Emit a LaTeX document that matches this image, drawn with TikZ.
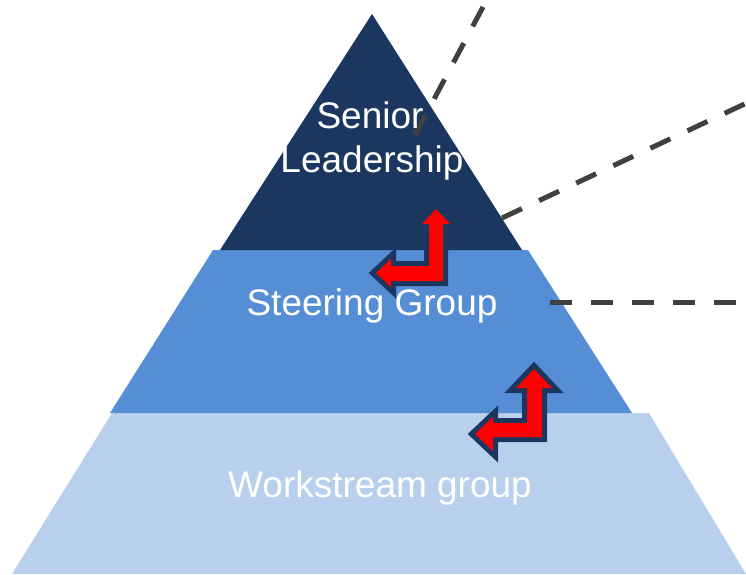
\documentclass[tikz,border=0pt]{standalone}
\usepackage{fontspec}
\setmainfont{Liberation Sans}
\definecolor{navy}{HTML}{1B375F}
\definecolor{midblue}{HTML}{558ED5}
\definecolor{lightblue}{HTML}{B9D0EC}
\definecolor{dashgrey}{HTML}{404040}
\tikzset{
  lvltext/.style={text=white, font=\fontsize{37}{44}\selectfont, anchor=base, inner sep=0pt},
  dashline/.style={draw=dashgrey, line width=5pt, dash pattern=on 22pt off 19pt},
  bentarrow/.style={fill=red, preaction={draw=navy, line width=10pt, line join=miter, miter limit=10, fill=navy}}
}
\begin{document}
\begin{tikzpicture}[x=1pt,y=-1pt]
\useasboundingbox (0,0) rectangle (746,574);
\clip (0,0) rectangle (746,574);
% pyramid levels
\fill[lightblue] (112,413) -- (649,413) -- (746,574) -- (12,574) -- cycle;
\fill[midblue] (213,250) -- (528,250) -- (632,413) -- (110,413) -- cycle;
\fill[navy] (372,14) -- (522,250) -- (220,250) -- cycle;
% dashed connectors
\coordinate (d1a) at (415,135);
\coordinate (d1b) at (492,-10);
\coordinate (d2a) at (502,218);
\coordinate (d2b) at (770,92);
\coordinate (d3a) at (550,302);
\coordinate (d3b) at (760,302);
\draw[dashline] (d1a) -- (d1b);
\draw[dashline] (d2a) -- (d2b);
\draw[dashline] (d3a) -- (d3b);
% labels
\node[lvltext] (senior) at (370,128) {Senior};
\node[lvltext] (leader) at (372,172) {Leadership};
\node[lvltext] (steer) at (372,315) {Steering Group};
\node[lvltext] (work) at (380,497) {Workstream group};
% bent arrows
\fill[bentarrow] (436,209) -- (450,224) -- (443,224) -- (443,281) -- (391,281) -- (391,287)
  -- (376,273) -- (391,259) -- (391,266) -- (429,266) -- (429,224) -- (422,224) -- cycle;
\fill[bentarrow] (534,369) -- (552,388) -- (542,388) -- (542,437) -- (493,437) -- (493,451)
  -- (475,434) -- (493,417) -- (493,423) -- (527,423) -- (527,388) -- (516,388) -- cycle;
\end{tikzpicture}
\end{document}
